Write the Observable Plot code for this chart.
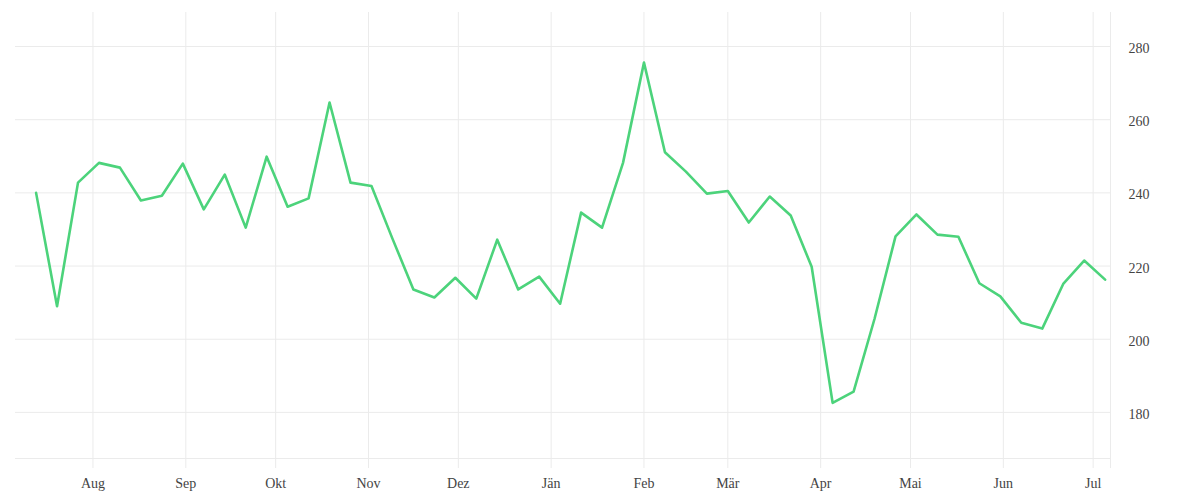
<!DOCTYPE html>
<html>
<head>
<meta charset="utf-8">
<script src="https://cdn.jsdelivr.net/npm/d3@7"></script>
<script src="https://cdn.jsdelivr.net/npm/@observablehq/plot@0.6"></script>
<style>
  html, body { margin: 0; padding: 0; background: #fff; }
</style>
</head>
<body>
<div id="chart"></div>
<script>
const dates = [
  "2022-07-13","2022-07-20","2022-07-27","2022-08-03","2022-08-10","2022-08-17","2022-08-24","2022-08-31",
  "2022-09-07","2022-09-14","2022-09-21","2022-09-28","2022-10-05","2022-10-12","2022-10-19","2022-10-26",
  "2022-11-02","2022-11-09","2022-11-16","2022-11-23","2022-11-30","2022-12-07","2022-12-14","2022-12-21",
  "2022-12-28","2023-01-04","2023-01-11","2023-01-18","2023-01-25","2023-02-01","2023-02-08","2023-02-15",
  "2023-02-22","2023-03-01","2023-03-08","2023-03-15","2023-03-22","2023-03-29","2023-04-05","2023-04-12",
  "2023-04-19","2023-04-26","2023-05-03","2023-05-10","2023-05-17","2023-05-24","2023-05-31","2023-06-07",
  "2023-06-14","2023-06-21","2023-06-28","2023-07-05"
];
const values = [
  240.0, 209.0, 242.8, 248.2, 246.9, 237.9, 239.2, 248.0,
  235.5, 245.0, 230.5, 249.9, 236.2, 238.5, 264.7, 242.8,
  241.9, 227.5, 213.6, 211.4, 216.8, 211.1, 227.2, 213.6,
  217.1, 209.7, 234.6, 230.5, 248.2, 275.6, 251.1, 245.8,
  239.8, 240.5, 231.9, 239.0, 233.8, 219.8, 182.6, 185.7,
  205.6, 228.1, 234.1, 228.6, 228.0, 215.3, 211.7, 204.5,
  202.9, 215.1, 221.5, 216.3
];
const monthTicks = [
  "2022-08-01","2022-09-01","2022-10-01","2022-11-01","2022-12-01","2023-01-01",
  "2023-02-01","2023-03-01","2023-04-01","2023-05-01","2023-06-01","2023-07-01"
];
const monthNames = ["Jän","Feb","Mär","Apr","Mai","Jun","Jul","Aug","Sep","Okt","Nov","Dez"];
const yTicks = [180, 200, 220, 240, 260, 280];
const xDomain = ["2022-07-06T03:00:00Z", "2023-07-06T19:00:00Z"];
const yDomain = [167.4, 289.3];

const data = dates.map((d, i) => ({date: new Date(d), value: values[i]}));
const monthDates = monthTicks.map(d => new Date(d));
const xDom = xDomain.map(d => new Date(d));

const grid = "#ebebeb";
const chart = Plot.plot({
  width: 1200,
  height: 500,
  marginLeft: 15,
  marginRight: 90,
  marginTop: 12,
  marginBottom: 42,
  style: {fontFamily: "'Liberation Serif', serif", fontSize: "14px", color: "#444", background: "#fff"},
  x: {type: "utc", domain: xDom, label: null},
  y: {domain: yDomain, label: null},
  marks: [
    Plot.ruleY(yTicks, {stroke: grid, strokeWidth: 1}),
    Plot.ruleY([yDomain[0]], {stroke: grid, strokeWidth: 1}),
    Plot.ruleX(monthDates, {stroke: grid, strokeWidth: 1, insetBottom: -10}),
    Plot.ruleX([xDom[1]], {stroke: grid, strokeWidth: 1, insetBottom: -10}),
    Plot.line(data, {x: "date", y: "value", stroke: "#4cd37b", strokeWidth: 2.6, strokeLinejoin: "round"}),
    Plot.axisX({ticks: monthDates, tickSize: 0, tickPadding: 20, fontSize: 14, fill: "#444",
      tickFormat: d => monthNames[d.getUTCMonth()], label: null}),
    Plot.axisY({anchor: "right", ticks: yTicks, tickSize: 0, tickPadding: 18, fontSize: 14, fill: "#444",
      tickFormat: d => String(d), dy: 2, label: null})
  ]
});
document.getElementById("chart").appendChild(chart);
</script>
</body>
</html>
